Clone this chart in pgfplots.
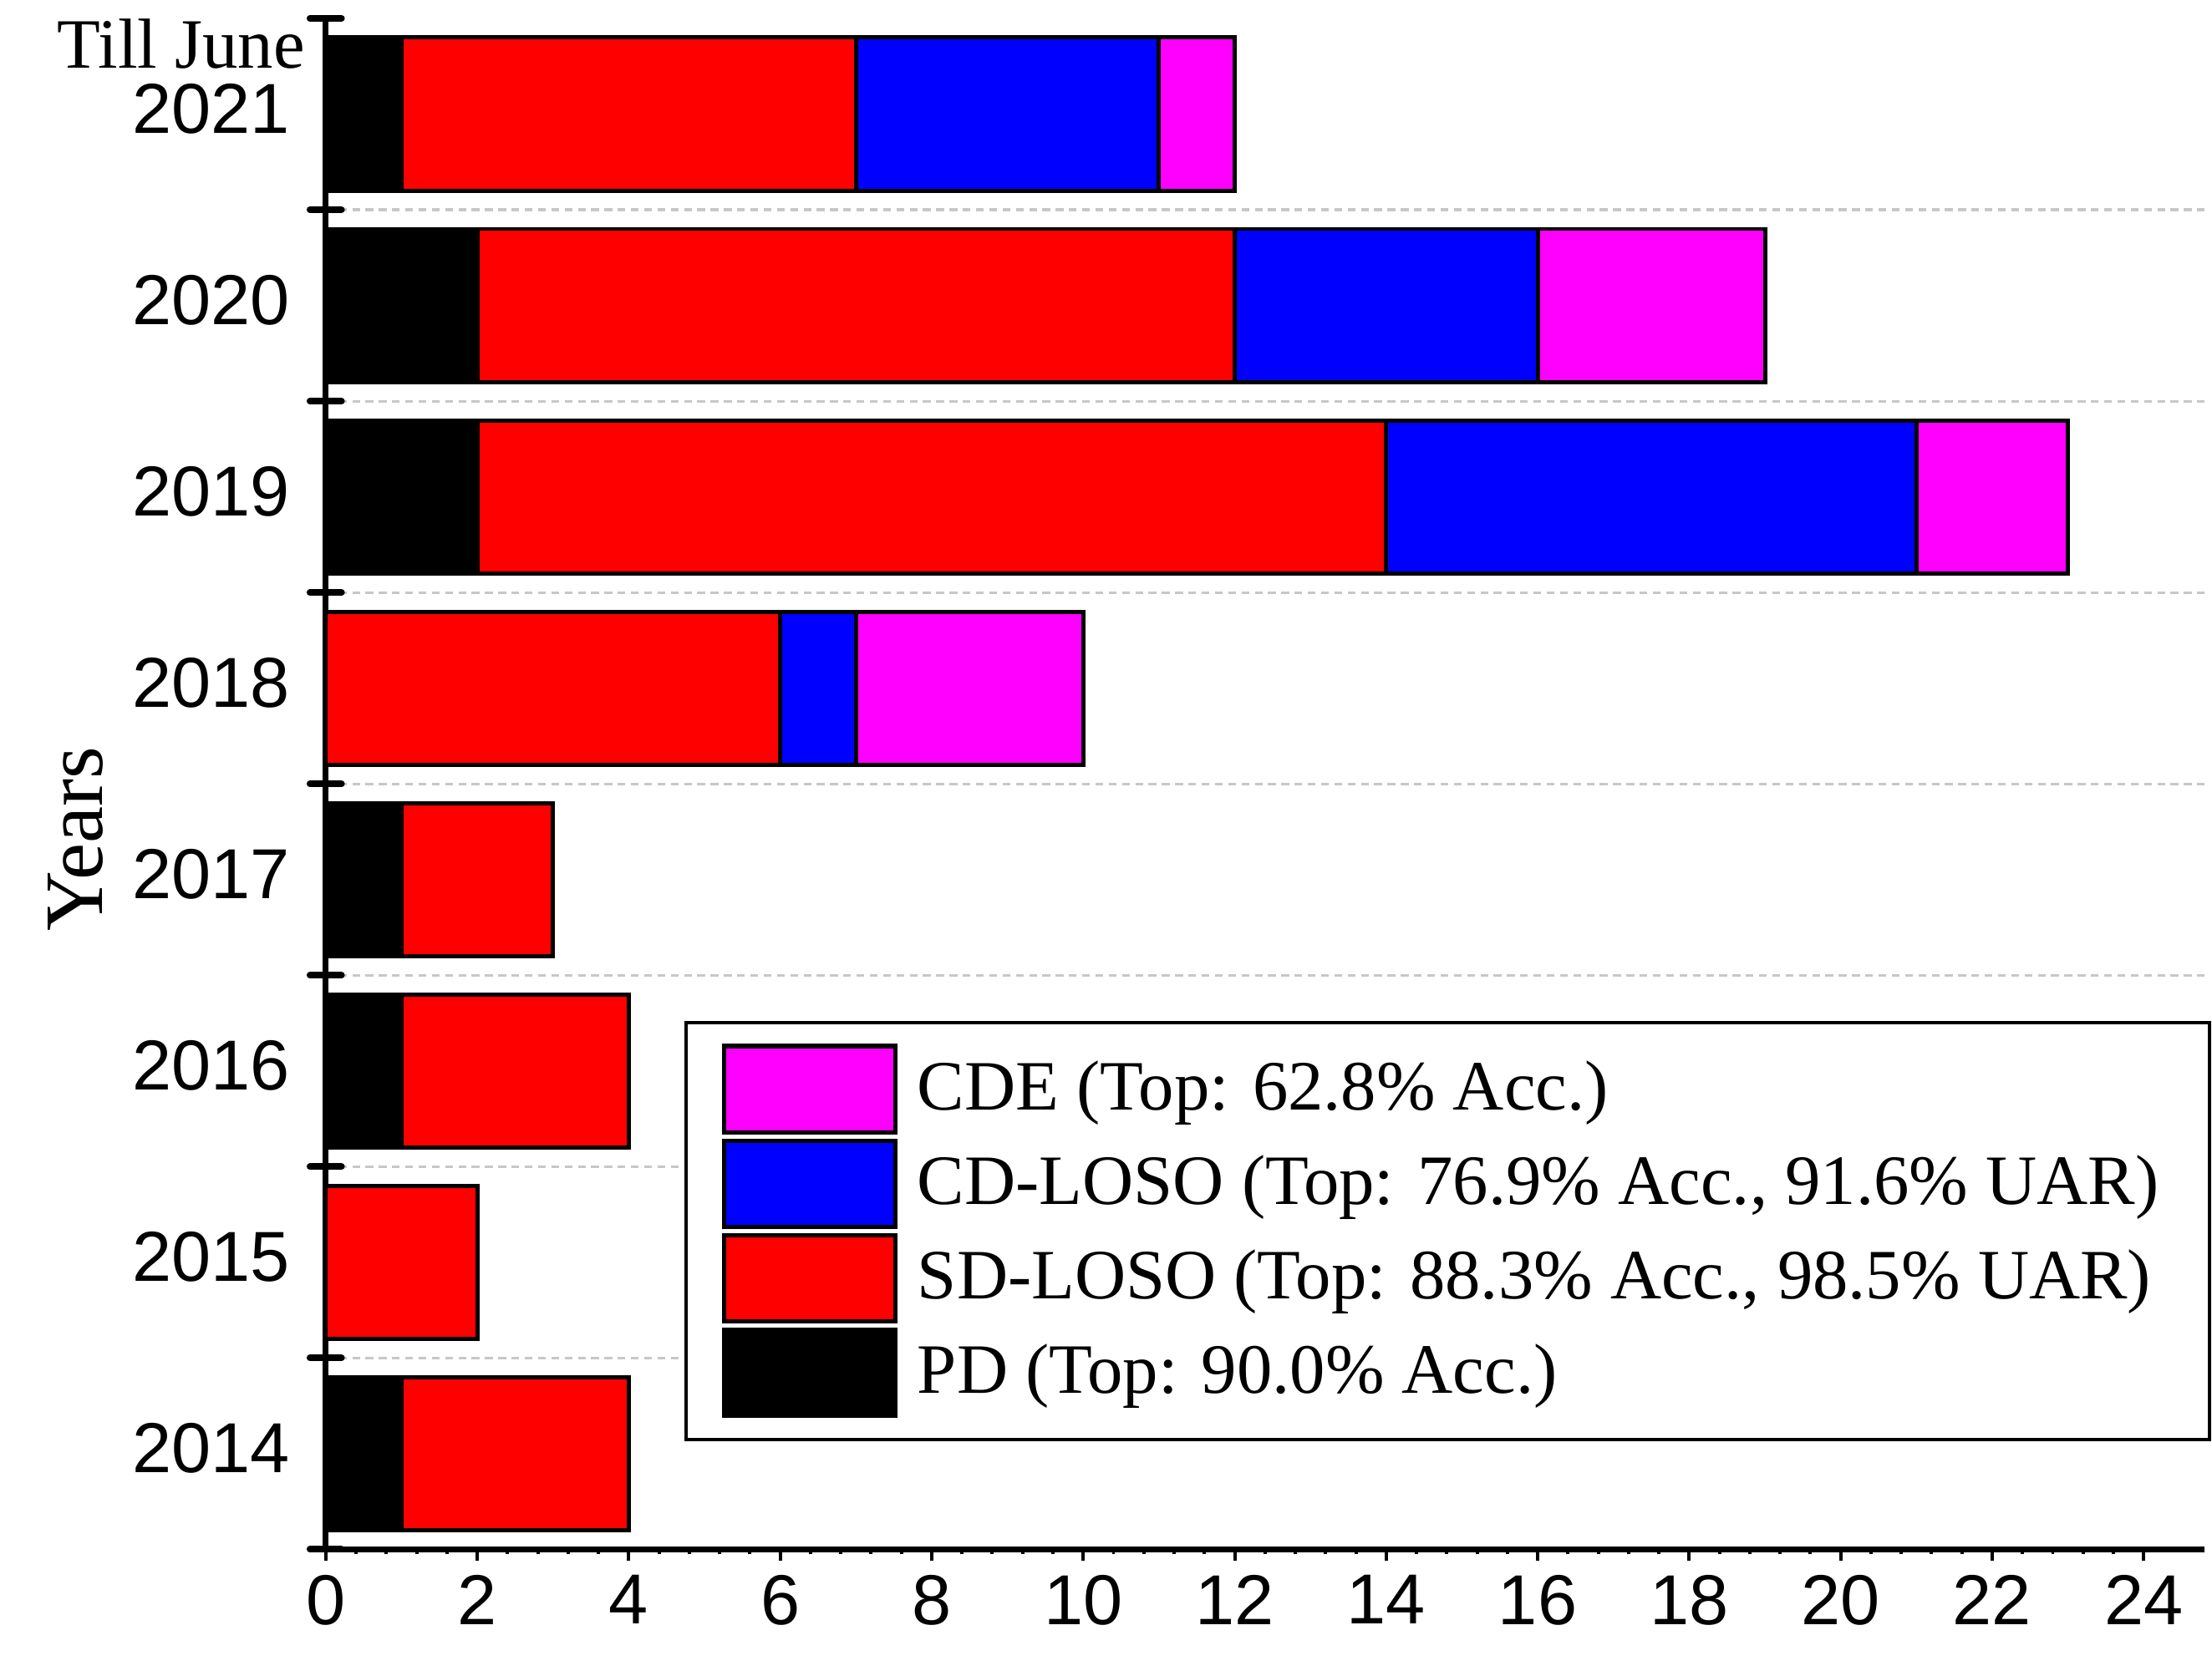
\documentclass[border=0pt]{standalone}
\usepackage{fontspec}
\setmainfont{Liberation Serif}
\setsansfont{Liberation Sans}
\usepackage{pgfplots}
\usepackage{pgfplotstable}
\pgfplotsset{compat=1.18}
\definecolor{cPD}{RGB}{0,0,0}
\definecolor{cSD}{RGB}{255,0,0}
\definecolor{cCD}{RGB}{0,0,255}
\definecolor{cCDE}{RGB}{255,0,255}
\pgfplotsset{mylegend/.style={legend image code/.code={\draw[##1, line width=0.8pt] (0pt,-7.8pt) rectangle (31pt,7.8pt);}}}
\pgfplotstableread{
y PD SD CD CDE
0 1 3 0 0
1 0 2 0 0
2 1 3 0 0
3 1 2 0 0
4 0 6 1 3
5 2 12 7 2
6 2 10 4 3
7 1 6 4 1
}\datatable
\begin{document}
\begin{tikzpicture}
\begin{axis}[
  scale only axis, width=339.7pt, height=276.9pt,
  xbar stacked, bar width=0.8,
  every axis plot post/.append style={mylegend},
  xmin=0, xmax=24.8, ymin=-0.5, ymax=7.5,
  axis lines=left,
  axis line style={-, line width=1pt},
  clip=false,
  xtick={0,2,...,24}, minor x tick num=4,
  tick align=outside, major tick length=2pt, minor tick length=0.9pt,
  xtick style={line width=0.6pt, black},
  ytick={0,...,7},
  yticklabels={2014,2015,2016,2017,2018,2019,2020,2021},
  minor ytick={0.5,1.5,...,6.5},
  ytick style={draw=none},
  major y tick style={draw=none},
  minor y tick style={draw=none},
  yminorgrids,
  minor grid style={dash pattern=on 1.4pt off 1pt, black!22, line width=0.5pt},
  tick label style={font=\sffamily\fontsize{12.8}{15}\selectfont},
  /pgf/number format/assume math mode=true,
  xticklabel style={inner sep=0pt, yshift=-2.4pt},
  yticklabel style={inner sep=0pt, xshift=-4.3pt, yshift=1pt},
  ylabel={Years},
  ylabel style={font=\rmfamily\fontsize{15}{18}\selectfont, at={(rel axis cs:-0.133,0.464)}, anchor=center},
  legend style={at={(rel axis cs:0.1908,0.345)}, anchor=north west, draw=black, line width=0.6pt,
    inner xsep=6.5pt, inner ysep=3.8pt, row sep=0.7pt, column sep=3.6pt,
    nodes={inner sep=0pt},
    font=\rmfamily\fontsize{12.8}{15}\selectfont},
  legend cell align=left,
  reverse legend,
]
\addplot[fill=cPD, draw=black, line width=0.75pt] table[x=PD, y=y] {\datatable};
\addlegendentry{PD (Top: 90.0\% Acc.)}
\addplot[fill=cSD, draw=black, line width=0.75pt] table[x=SD, y=y] {\datatable};
\addlegendentry{SD-LOSO (Top: 88.3\% Acc., 98.5\% UAR)}
\addplot[fill=cCD, draw=black, line width=0.75pt] table[x=CD, y=y] {\datatable};
\addlegendentry{CD-LOSO (Top: 76.9\% Acc., 91.6\% UAR)\hspace*{2.6pt}}
\addplot[fill=cCDE, draw=black, line width=0.75pt] table[x=CDE, y=y] {\datatable};
\addlegendentry{CDE (Top: 62.8\% Acc.)}
\node[anchor=base east, inner sep=0pt, font=\rmfamily\fontsize{12.8}{15}\selectfont] at ([xshift=-3.6pt,yshift=0.6pt]axis cs:0,7.225) {Till June};
\coordinate (bbsw) at ([xshift=-58.9pt,yshift=-21.9pt]rel axis cs:0,0);
\coordinate (bbne) at ([xshift=1.4pt,yshift=3.0pt]rel axis cs:1,1);
\end{axis}
\begin{axis}[
  scale only axis, width=339.7pt, height=276.9pt,
  xmin=0, xmax=24.8, ymin=-0.5, ymax=7.5,
  axis lines=left, axis line style={draw=none},
  xtick=\empty, ytick={-0.5,0.5,...,7.5}, yticklabels={},
  tick align=center, major tick length=5.7pt,
  ytick style={line width=1.2pt, line cap=round, black},
]
\end{axis}
\path (bbsw) rectangle (bbne);
\end{tikzpicture}
\end{document}
